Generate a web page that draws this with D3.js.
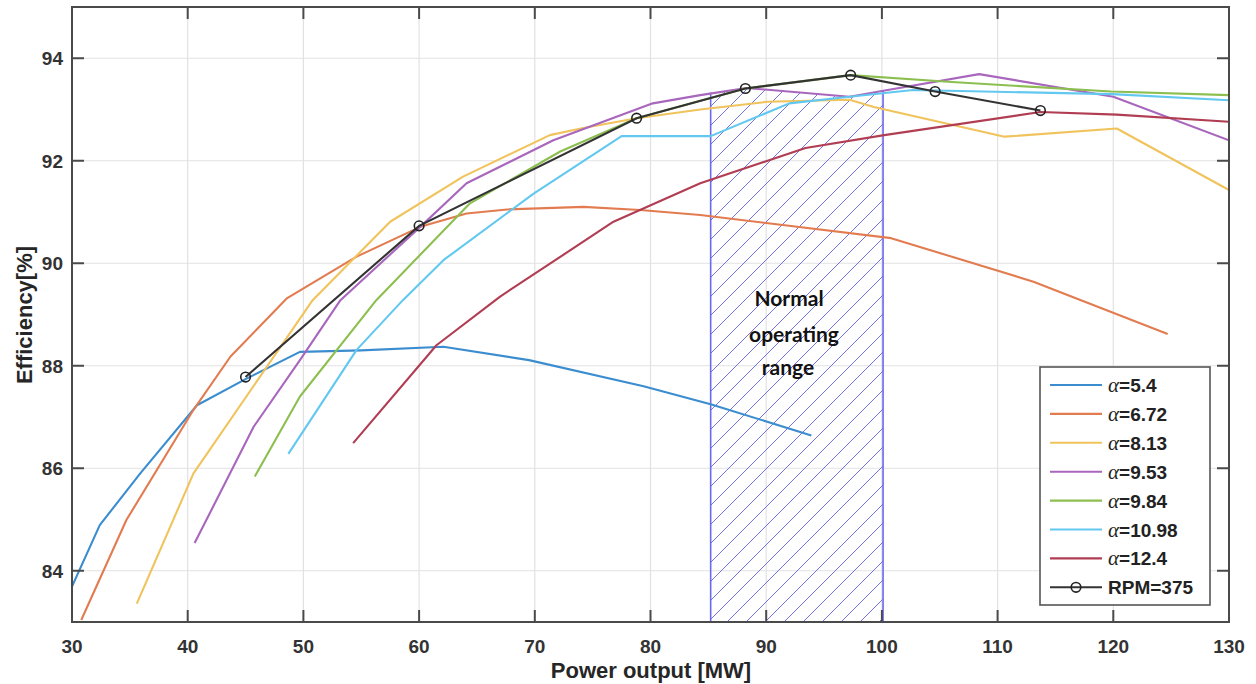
<!DOCTYPE html>
<html>
<head>
<meta charset="utf-8">
<script src="https://cdn.jsdelivr.net/npm/d3@7"></script>
<style>
  html, body { margin: 0; padding: 0; background: #fff; }
  svg { display: block; }
</style>
</head>
<body>
<svg id="chart" width="1256" height="684"></svg>
<script>
// ---------------- data ----------------
const xTicks = [30, 40, 50, 60, 70, 80, 90, 100, 110, 120, 130];
const yTicks = [84, 86, 88, 90, 92, 94];

const seriesLabels = ["5.4", "6.72", "8.13", "9.53", "9.84", "10.98", "12.4"];
const rpmLabel = "RPM=375";

const alpha5_4 = [[30,83.69],[32.4,84.89],[35.9,85.9],[40.8,87.23],[45,87.74],[49.7,88.27],[55,88.3],[62.1,88.37],[69.5,88.11],[79.4,87.6],[85.2,87.25],[93.9,86.64]];
const alpha6_72 = [[30.8,83.04],[34.7,84.99],[40.5,87.14],[43.7,88.18],[48.6,89.32],[54.6,90.13],[60.1,90.71],[64.1,90.97],[67.6,91.05],[74.2,91.1],[79.1,91.04],[84.3,90.94],[100.8,90.49],[113.1,89.64],[124.7,88.62]];
const alpha8_13 = [[35.6,83.36],[40.5,85.9],[50.8,89.28],[57.5,90.81],[63.8,91.69],[71.3,92.5],[74.2,92.64],[78.8,92.83],[84.3,93.0],[90.1,93.15],[97.2,93.19],[99.3,93.05],[110.6,92.47],[120.3,92.63],[130,91.43]];
const alpha9_53 = [[40.6,84.54],[45.7,86.81],[49.7,88.11],[53.2,89.28],[60.1,90.71],[64.1,91.56],[71.6,92.4],[80.2,93.12],[84.3,93.28],[88.3,93.42],[97.2,93.25],[100.5,93.38],[108.4,93.69],[120,93.25],[130,92.4]];
const alpha9_84 = [[45.8,85.84],[49.7,87.4],[56.3,89.28],[64.4,91.17],[72.2,92.18],[78.8,92.83],[88.2,93.41],[97.3,93.67],[105.7,93.54],[119.8,93.35],[130,93.28]];
const alpha10_98 = [[48.7,86.28],[54.6,88.31],[58.6,89.28],[62.1,90.06],[69.9,91.36],[77.5,92.48],[85.2,92.48],[92,93.12],[97.2,93.25],[102.7,93.38],[119.9,93.3],[130,93.18]];
const alpha12_4 = [[54.3,86.49],[61.5,88.4],[67,89.35],[76.8,90.81],[84.3,91.56],[93.4,92.25],[100.2,92.5],[113.7,92.95],[120.3,92.9],[130,92.76]];
const rpm375 = [[45,87.78],[60,90.73],[78.8,92.83],[88.2,93.41],[97.3,93.67],[104.6,93.35],[113.7,92.98]];

// normal operating range (x bounds and top boundary)
const rangeTop = [[85.2,93.33],[88.3,93.42],[97.2,93.25],[100.1,93.38]];
const rangeLabel = ["Normal", "operating", "range"];

const colors = ["#3b8dcf", "#e27c50", "#f0c35c", "#a866bd", "#8cbf4f", "#62c8f0", "#b13d53"];
const allSeries = [alpha5_4, alpha6_72, alpha8_13, alpha9_53, alpha9_84, alpha10_98, alpha12_4];

// ---------------- layout ----------------
const svg = d3.select("#chart");
const L = 72, R = 1229, T = 7, B = 622;
const x = d3.scaleLinear().domain([30, 130]).range([L, R]);
const y = d3.scaleLinear().domain([83, 95]).range([B, T]);

// defs: clip + hatch
const defs = svg.append("defs");
defs.append("clipPath").attr("id", "plotclip")
  .append("rect").attr("x", L).attr("y", T).attr("width", R - L).attr("height", B - T);
const hs = 19;
const pat = defs.append("pattern").attr("id", "hatch")
  .attr("patternUnits", "userSpaceOnUse").attr("width", hs).attr("height", hs);
pat.append("path").attr("d", `M-2,2 L2,-2 M0,${hs} L${hs},0 M${hs-2},${hs+2} L${hs+2},${hs-2}`)
  .attr("stroke", "#7272e4").attr("stroke-width", 1);

// grid
const grid = svg.append("g");
grid.selectAll("line.gx").data(xTicks.slice(1, -1)).join("line")
  .attr("x1", d => x(d)).attr("x2", d => x(d)).attr("y1", T).attr("y2", B)
  .attr("stroke", "#e2e2e2").attr("stroke-width", 1.2);
grid.selectAll("line.gy").data(yTicks).join("line")
  .attr("x1", L).attr("x2", R).attr("y1", d => y(d)).attr("y2", d => y(d))
  .attr("stroke", "#e2e2e2").attr("stroke-width", 1.2);

// hatched region
const xr0 = rangeTop[0][0], xr1 = rangeTop[rangeTop.length - 1][0];
const regionPts = [[xr0, 83]].concat(rangeTop).concat([[xr1, 83]]);
svg.append("path")
  .attr("d", d3.line().x(d => x(d[0])).y(d => y(d[1]))(regionPts) + "Z")
  .attr("fill", "url(#hatch)").attr("stroke", "none");
[rangeTop[0], rangeTop[rangeTop.length - 1]].forEach(p => {
  svg.append("line").attr("x1", x(p[0])).attr("x2", x(p[0]))
    .attr("y1", y(p[1])).attr("y2", B)
    .attr("stroke", "#6a6af0").attr("stroke-width", 1.6);
});

// range label
const labelYs = [306, 342, 375];
const labelXs = [789, 794, 788];
rangeLabel.forEach((t, i) => {
  svg.append("text").attr("x", labelXs[i]).attr("y", labelYs[i])
    .attr("text-anchor", "middle")
    .attr("font-family", "Lato, 'Open Sans', sans-serif")
    .attr("font-weight", "bold").attr("font-size", 21)
    .attr("fill", "#111").text(t);
});

// series
const line = d3.line().x(d => x(d[0])).y(d => y(d[1]));
const plot = svg.append("g").attr("clip-path", "url(#plotclip)");
allSeries.forEach((s, i) => {
  plot.append("path").attr("d", line(s)).attr("fill", "none")
    .attr("stroke", colors[i]).attr("stroke-width", 2.1)
    .attr("stroke-linejoin", "round");
});
plot.append("path").attr("d", line(rpm375)).attr("fill", "none")
  .attr("stroke", "#333").attr("stroke-width", 2.1);
plot.selectAll("circle.rpm").data(rpm375).join("circle")
  .attr("cx", d => x(d[0])).attr("cy", d => y(d[1])).attr("r", 4.8)
  .attr("fill", "none").attr("stroke", "#222").attr("stroke-width", 1.6);

// frame + ticks
const axisColor = "#4a4a4a";
svg.append("rect").attr("x", L).attr("y", T).attr("width", R - L).attr("height", B - T)
  .attr("fill", "none").attr("stroke", axisColor).attr("stroke-width", 2);
const tl = 12;
const ticks = svg.append("g").attr("stroke", axisColor).attr("stroke-width", 2);
xTicks.forEach(v => {
  ticks.append("line").attr("x1", x(v)).attr("x2", x(v)).attr("y1", B).attr("y2", B - tl);
  ticks.append("line").attr("x1", x(v)).attr("x2", x(v)).attr("y1", T).attr("y2", T + tl);
});
yTicks.forEach(v => {
  ticks.append("line").attr("x1", L).attr("x2", L + tl).attr("y1", y(v)).attr("y2", y(v));
  ticks.append("line").attr("x1", R).attr("x2", R - tl).attr("y1", y(v)).attr("y2", y(v));
});

// tick labels
const tf = "'Liberation Sans', Arial, sans-serif";
svg.selectAll("text.xt").data(xTicks).join("text")
  .attr("x", d => x(d)).attr("y", 653).attr("text-anchor", "middle")
  .attr("font-family", tf).attr("font-weight", "bold").attr("font-size", 19)
  .attr("fill", "#333").text(d => d);
svg.selectAll("text.yt").data(yTicks).join("text")
  .attr("x", 63).attr("y", d => y(d) + 7).attr("text-anchor", "end")
  .attr("font-family", tf).attr("font-weight", "bold").attr("font-size", 19)
  .attr("fill", "#333").text(d => d);

// axis labels
svg.append("text").attr("x", 651).attr("y", 678).attr("text-anchor", "middle")
  .attr("font-family", tf).attr("font-weight", "bold").attr("font-size", 22)
  .attr("fill", "#262626").text("Power output [MW]");
svg.append("text").attr("transform", "translate(32,315) rotate(-90)")
  .attr("text-anchor", "middle")
  .attr("font-family", tf).attr("font-weight", "bold").attr("font-size", 22)
  .attr("fill", "#262626").text("Efficiency[%]");

// legend
const lg = svg.append("g");
lg.append("rect").attr("x", 1040).attr("y", 367).attr("width", 170).attr("height", 238)
  .attr("fill", "#fff").attr("stroke", "#555").attr("stroke-width", 1.6);
const rowY = i => 385 + i * 28.9;
seriesLabels.forEach((lab, i) => {
  lg.append("line").attr("x1", 1050).attr("x2", 1102).attr("y1", rowY(i)).attr("y2", rowY(i))
    .attr("stroke", colors[i]).attr("stroke-width", 2.1);
  const t = lg.append("text").attr("x", 1108).attr("y", rowY(i) + 7)
    .attr("font-family", tf).attr("font-size", 19).attr("fill", "#222");
  t.append("tspan").attr("font-family", "'Liberation Serif', 'DejaVu Serif', serif")
    .attr("font-style", "italic").attr("font-size", 21).text("α");
  t.append("tspan").attr("font-weight", "bold").text("=" + lab);
});
const ri = seriesLabels.length;
lg.append("line").attr("x1", 1050).attr("x2", 1102).attr("y1", rowY(ri)).attr("y2", rowY(ri))
  .attr("stroke", "#333").attr("stroke-width", 2.1);
lg.append("circle").attr("cx", 1076).attr("cy", rowY(ri)).attr("r", 4.8)
  .attr("fill", "none").attr("stroke", "#222").attr("stroke-width", 1.6);
lg.append("text").attr("x", 1108).attr("y", rowY(ri) + 7)
  .attr("font-family", tf).attr("font-weight", "bold").attr("font-size", 19)
  .attr("fill", "#222").text(rpmLabel);
</script>
</body>
</html>
